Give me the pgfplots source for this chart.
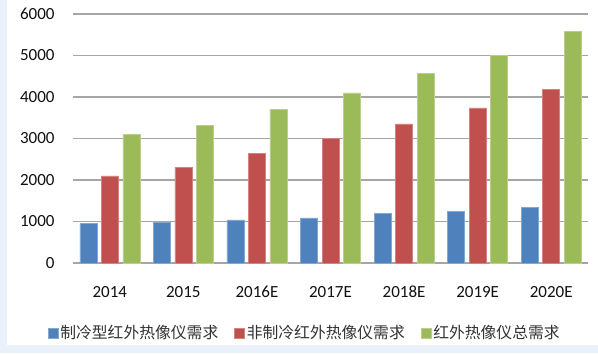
\documentclass[border=0pt]{standalone}
\usepackage{fontspec}
\setmainfont{Carlito}
\newfontfamily\cjk{Noto Sans CJK SC}
\usepackage{pgfplots}
\pgfplotsset{compat=1.18}
\definecolor{cblue}{HTML}{4F81BD}
\definecolor{cred}{HTML}{C0504D}
\definecolor{cgreen}{HTML}{9BBB59}
\definecolor{gridc}{HTML}{A6A6A6}
\definecolor{bgblue}{HTML}{EAF1FA}
\definecolor{txt}{HTML}{111111}
\begin{document}
\begin{tikzpicture}[x=1bp,y=1bp]
\useasboundingbox (0,0) rectangle (598,353);
\fill[bgblue] (0,0) rectangle (598,353);
\fill[white] (7,8) rectangle (598,353);
\begin{axis}[
  at={(73bp,90bp)}, anchor=south west,
  scale only axis, width=515bp, height=249bp,
  ybar=4.5bp, bar width=17bp,
  xmin=-0.5, xmax=6.5, ymin=0, ymax=6000,
  xtick=data,
  xticklabels={2014,2015,2016E,2017E,2018E,2019E,2020E},
  ytick={0,1000,...,6000},
  axis line style={draw=none},
  axis x line*=bottom,
  x axis line style={draw=gridc, line width=1.2bp},
  major tick length=0pt,
  ymajorgrids, grid style={draw=gridc, line width=1.2bp},
  /pgf/number format/assume math mode=true,
  /pgf/number format/1000 sep={},
  tick label style={font=\fontsize{17bp}{20bp}\selectfont, text=txt},
  yticklabel style={xshift=-15bp},
  xticklabel style={anchor=base, yshift=-34bp},
  legend style={at={(0.45,-0.281)}, anchor=center, draw=none, fill=none,
    legend columns=3, font=\cjk\fontsize{15.8bp}{18bp}\selectfont, text=black!80,
    /tikz/every even column/.append style={column sep=14bp},
    inner sep=0pt},
  legend image code/.code={\fill[#1] (0bp,-5bp) rectangle (10bp,5bp);},
  legend cell align=left,
]
\addplot[fill=cblue, draw=cblue!70!white, line width=0.5bp] coordinates {(0,950) (1,985) (2,1040) (3,1090) (4,1190) (5,1250) (6,1340)};
\addplot[fill=cred, draw=cred!70!white, line width=0.5bp] coordinates {(0,2100) (1,2310) (2,2650) (3,3000) (4,3350) (5,3740) (6,4190)};
\addplot[fill=cgreen, draw=cgreen!70!white, line width=0.5bp] coordinates {(0,3100) (1,3320) (2,3710) (3,4100) (4,4570) (5,5000) (6,5590)};
\legend{制冷型红外热像仪需求,非制冷红外热像仪需求,红外热像仪总需求}
\end{axis}
\end{tikzpicture}
\end{document}
